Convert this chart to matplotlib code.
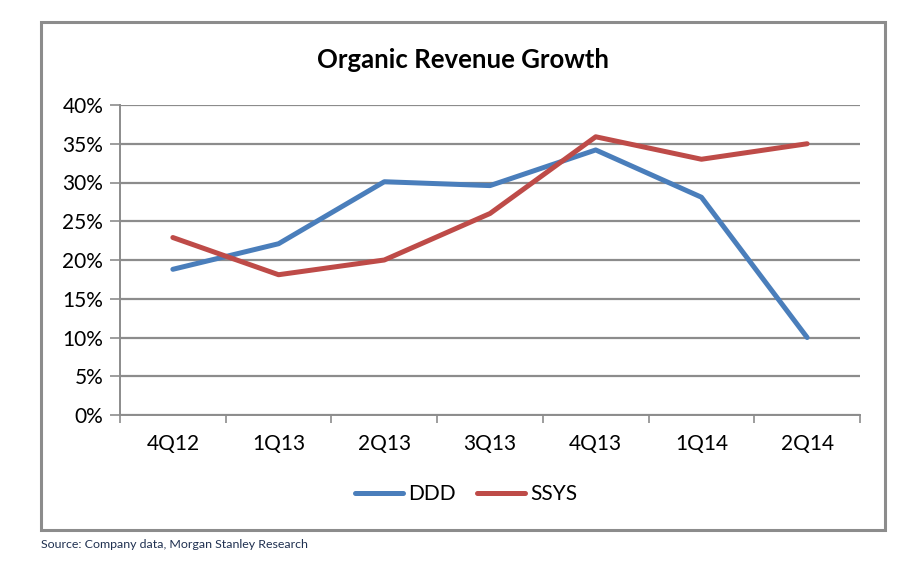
import matplotlib.pyplot as plt
from matplotlib.patches import Rectangle
from matplotlib.ticker import FixedLocator, PercentFormatter

quarters = ['4Q12', '1Q13', '2Q13', '3Q13', '4Q13', '1Q14', '2Q14']
ddd = [18.8, 22.1, 30.1, 29.6, 34.2, 28.1, 10.0]
ssys = [22.9, 18.1, 20.0, 26.0, 35.9, 33.0, 35.0]

plt.rcParams['font.family'] = ['Lato', 'DejaVu Sans']

fig = plt.figure(figsize=(9.24, 5.63), dpi=100)
W, H = 924, 563

# outer chart frame
fig.patches.append(Rectangle((41 / W, 1 - 530 / H), (885 - 41) / W, (530 - 22) / H,
                             transform=fig.transFigure, fill=False,
                             edgecolor='#8c8c8c', linewidth=2.2))

ax = fig.add_axes([120 / W, 1 - 415 / H, (860 - 120) / W, (415 - 105) / H])
x = range(len(quarters))
ax.plot(x, ddd, color='#4a7ebb', linewidth=3.6, label='DDD', solid_capstyle='round')
ax.plot(x, ssys, color='#be4b48', linewidth=3.6, label='SSYS', solid_capstyle='round')

ax.set_xlim(-0.5, len(quarters) - 0.5)
ax.set_ylim(0, 40)
ax.set_yticks(range(0, 41, 5))
ax.yaxis.set_major_formatter(PercentFormatter(decimals=0))
ax.grid(axis='y', color='#8c8c8c', linewidth=1.6)
ax.set_axisbelow(True)

ax.set_xticks(list(x))
ax.set_xticklabels(quarters)
ax.xaxis.set_minor_locator(FixedLocator([i - 0.5 for i in range(len(quarters) + 1)]))
ax.tick_params(axis='x', which='major', length=0, pad=14, labelsize=15)
ax.tick_params(axis='x', which='minor', length=6, color='#8c8c8c', width=1.2, direction='out')
ax.tick_params(axis='y', length=7, color='#8c8c8c', width=1.2, labelsize=15, pad=5)

for s in ['top', 'right']:
    ax.spines[s].set_visible(False)
for s in ['left', 'bottom']:
    ax.spines[s].set_color('#8c8c8c')
    ax.spines[s].set_linewidth(1.4)

fig.text(463 / W, 1 - 60 / H, 'Organic Revenue Growth',
         ha='center', va='center', fontsize=18.5, fontweight='bold')

fig.legend(loc='center', bbox_to_anchor=(466 / W, 1 - 494 / H), ncol=2, frameon=False,
           fontsize=15, handlelength=2.3, handletextpad=0.25, columnspacing=1.0)

fig.text(41 / W, 1 - 545 / H, 'Source: Company data, Morgan Stanley Research',
         ha='left', va='center', fontsize=8.9, color='#1f3050')

plt.savefig('out.png', dpi=100)
